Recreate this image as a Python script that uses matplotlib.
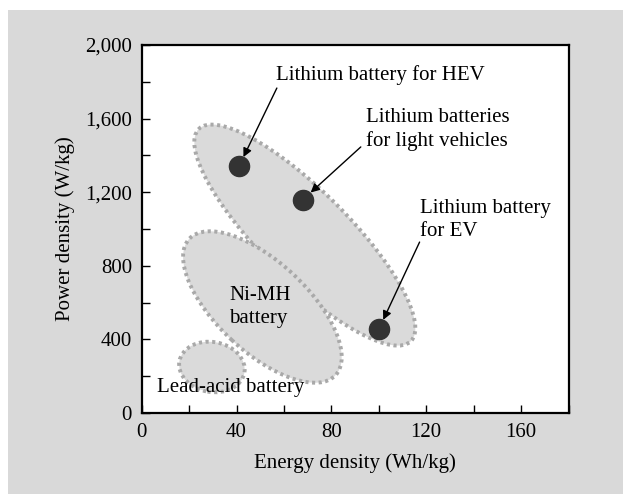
import matplotlib
matplotlib.use("Agg")
import matplotlib.pyplot as plt
from matplotlib.patches import Ellipse, Rectangle
from matplotlib.ticker import MultipleLocator, FuncFormatter
from matplotlib import transforms

plt.rcParams['font.family'] = ['Liberation Serif', 'DejaVu Serif']

# battery points (energy density Wh/kg, power density W/kg)
point_names = ['Lithium battery for HEV', 'Lithium batteries\nfor light vehicles',
               'Lithium battery\nfor EV']
point_energy = [41, 68, 100]
point_power = [1340, 1160, 455]

# label anchors (data coords) and arrow tails
label_x = [56.5, 94.4, 117.4]
label_y = [1835, 1540, 1050]
tail_x = [57.0, 92.4, 117.2]
tail_y = [1766, 1446, 929]

# shaded regions: center in data coords
region_names = ['Lithium', 'Ni-MH', 'Lead-acid']
region_cx = [68.8, 50.9, 29.6]
region_cy = [967, 576, 250]
# ellipse shape in inches / degrees
region_w = [3.0, 2.0, 0.66]
region_h = [0.88, 0.90, 0.50]
region_ang = [-45, -43, -10]

fig = plt.figure(figsize=(6.23, 4.94), dpi=100)
fig.patch.set_facecolor('white')
fig.patches.append(Rectangle((8 / 623, 0), 1, 484 / 494, transform=fig.transFigure,
                             facecolor='#d9d9d9', edgecolor='none', zorder=-10))

ax = fig.add_axes([141.7 / 623, 81 / 494, (568.5 - 141.7) / 623, (413 - 45) / 494])
ax.set_facecolor('white')
ax.set_xlim(0, 180)
ax.set_ylim(0, 2000)

for cx, cy, w, h, a in zip(region_cx, region_cy, region_w, region_h, region_ang):
    tr = fig.dpi_scale_trans + transforms.ScaledTranslation(cx, cy, ax.transData)
    ax.add_patch(Ellipse((0, 0), w, h, angle=a, transform=tr, facecolor='#dadada',
                         edgecolor='#a9a9a9', linewidth=2.8, linestyle=(0, (0.8, 0.9)),
                         zorder=1))

ax.plot(point_energy, point_power, 'o', color='#333333', markersize=14.5, zorder=3)

for name, lx, ly, tx, ty, px, py in zip(point_names, label_x, label_y, tail_x, tail_y,
                                        point_energy, point_power):
    ax.text(lx, ly, name, fontsize=15, ha='left', va='center', linespacing=1.25, zorder=4)
    ax.annotate('', xy=(px, py), xytext=(tx, ty),
                arrowprops=dict(arrowstyle='-|>', color='black', lw=1.0,
                                mutation_scale=13, shrinkA=0, shrinkB=7.5), zorder=4)

ax.text(36.9, 576, 'Ni-MH\nbattery', fontsize=15, ha='left', va='center',
        linespacing=1.25, zorder=4)
ax.text(6.3, 140, 'Lead-acid battery', fontsize=15, ha='left', va='center', zorder=4)

ax.xaxis.set_major_locator(MultipleLocator(40))
ax.xaxis.set_minor_locator(MultipleLocator(20))
ax.yaxis.set_major_locator(MultipleLocator(400))
ax.yaxis.set_minor_locator(MultipleLocator(200))
ax.yaxis.set_major_formatter(FuncFormatter(lambda v, p: f'{int(v):,}'))
ax.tick_params(which='both', direction='in', length=6, width=1.0, top=False, right=False)
ax.tick_params(which='major', labelsize=15, pad=7)
for s in ax.spines.values():
    s.set_linewidth(1.6)

ax.set_xlabel('Energy density (Wh/kg)', fontsize=15, labelpad=8)
ax.set_ylabel('Power density (W/kg)', fontsize=15, labelpad=7)

fig.savefig('out.png', dpi=100, facecolor=fig.get_facecolor())
